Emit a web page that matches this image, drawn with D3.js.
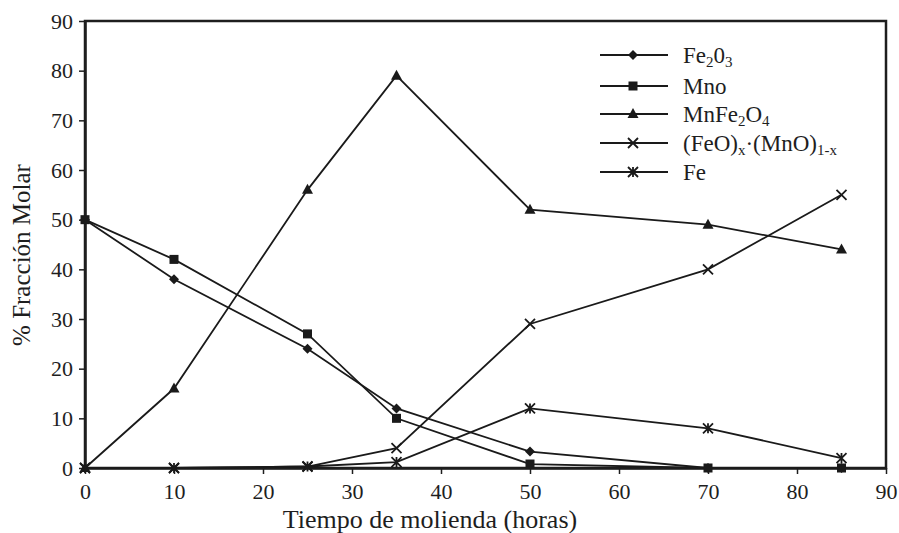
<!DOCTYPE html>
<html><head><meta charset="utf-8">
<script src="https://cdn.jsdelivr.net/npm/d3@7/dist/d3.min.js"></script>
<style>body{margin:0;background:#fff}svg{display:block}</style>
</head><body>
<svg id="c" width="899" height="533"></svg>
<script>
const hours = [0, 10, 25, 35, 50, 70, 85];
const fe2o3 = [50, 38, 24, 12, 3.3, 0, 0];
const mno = [50, 42, 27, 10, 0.8, 0, 0];
const mnfe2o4 = [0, 16, 56, 79, 52, 49, 44];
const feomno = [0, 0, 0.3, 4, 29, 40, 55];
const fe = [0, 0, 0.3, 1.2, 12, 8, 2];
const xTicks = [0,10,20,30,40,50,60,70,80,90];
const yTicks = [0,10,20,30,40,50,60,70,80,90];

const series = [
  {name:"Fe2O3", vals: fe2o3, m:"diamond"},
  {name:"Mno", vals: mno, m:"square"},
  {name:"MnFe2O4", vals: mnfe2o4, m:"triangle"},
  {name:"FeOMnO", vals: feomno, m:"x"},
  {name:"Fe", vals: fe, m:"star"}
];

const svg = d3.select("#c");
const L=85, R=886, T=21, B=468;
const x = d3.scaleLinear().domain([0,90]).range([L,R]);
const y = d3.scaleLinear().domain([0,90]).range([B,T]);
const font = "'Liberation Serif','Times New Roman',serif";
const ink = "#1e1e1e";

svg.append("rect").attr("x",L).attr("y",T).attr("width",R-L).attr("height",B-T)
  .attr("fill","none").attr("stroke",ink).attr("stroke-width",2.5);

const gx = svg.append("g").attr("transform",`translate(0,${B})`)
  .call(d3.axisBottom(x).tickValues(xTicks).tickSize(6).tickPadding(9).tickSizeOuter(0));
const gy = svg.append("g").attr("transform",`translate(${L},0)`)
  .call(d3.axisLeft(y).tickValues(yTicks).tickSize(6).tickPadding(6).tickSizeOuter(0));
[gx,gy].forEach(g=>{
  g.select(".domain").attr("stroke",ink).attr("stroke-width",2.5);
  g.selectAll(".tick line").attr("stroke",ink).attr("stroke-width",1.5);
  g.selectAll(".tick text").attr("font-family",font).attr("font-size",22).attr("fill",ink);
});

svg.append("text").attr("x",430).attr("y",528).attr("text-anchor","middle")
  .attr("font-family",font).attr("font-size",26).attr("fill",ink).text("Tiempo de molienda (horas)");
svg.append("text").attr("transform",`translate(30,${255}) rotate(-90)`).attr("text-anchor","middle")
  .attr("font-family",font).attr("font-size",25).attr("fill",ink).text("% Fracción Molar");

function marker(g, type, cx, cy){
  const c="#1a1a1a";
  if(type==="diamond"){
    g.append("path").attr("d",`M${cx},${cy-5}L${cx+5},${cy}L${cx},${cy+5}L${cx-5},${cy}Z`).attr("fill",c);
  } else if(type==="square"){
    g.append("rect").attr("x",cx-4.5).attr("y",cy-4.5).attr("width",9).attr("height",9).attr("fill",c);
  } else if(type==="triangle"){
    g.append("path").attr("d",`M${cx},${cy-6}L${cx+5.5},${cy+4}L${cx-5.5},${cy+4}Z`).attr("fill",c);
  } else if(type==="x"){
    g.append("path").attr("d",`M${cx-5},${cy-5}L${cx+5},${cy+5}M${cx+5},${cy-5}L${cx-5},${cy+5}`)
      .attr("stroke",c).attr("stroke-width",1.8);
  } else {
    g.append("path").attr("d",`M${cx-5},${cy-5}L${cx+5},${cy+5}M${cx+5},${cy-5}L${cx-5},${cy+5}M${cx},${cy-5}L${cx},${cy+5}`)
      .attr("stroke",c).attr("stroke-width",1.8);
  }
}

const line = d3.line().x((d,i)=>x(hours[i])).y(d=>y(d));
series.forEach(s=>{
  const g = svg.append("g");
  g.append("path").attr("d",line(s.vals)).attr("fill","none").attr("stroke","#1a1a1a").attr("stroke-width",1.8);
  s.vals.forEach((v,i)=>marker(g,s.m,x(hours[i]),y(v)));
});

const legY = [55, 86, 114, 143, 172];
const lg = svg.append("g");
series.forEach((s,i)=>{
  lg.append("line").attr("x1",600).attr("x2",668).attr("y1",legY[i]).attr("y2",legY[i])
    .attr("stroke","#1a1a1a").attr("stroke-width",1.8);
  marker(lg,s.m,633,legY[i]);
});
const lt = (i)=>lg.append("text").attr("x",683).attr("y",legY[i]+8).attr("font-family",font)
  .attr("font-size",23).attr("fill",ink);
const sub = 15;
let t;
t=lt(0); t.append("tspan").text("Fe"); t.append("tspan").attr("font-size",sub).attr("dy",4).text("2");
t.append("tspan").attr("dy",-4).text("0"); t.append("tspan").attr("font-size",sub).attr("dy",4).text("3");
t=lt(1); t.text("Mno");
t=lt(2); t.append("tspan").text("MnFe"); t.append("tspan").attr("font-size",sub).attr("dy",4).text("2");
t.append("tspan").attr("dy",-4).text("O"); t.append("tspan").attr("font-size",sub).attr("dy",4).text("4");
t=lt(3); t.append("tspan").text("(FeO)"); t.append("tspan").attr("font-size",sub).attr("dy",4).text("x");
t.append("tspan").attr("dy",-4).text("·(MnO)"); t.append("tspan").attr("font-size",sub).attr("dy",4).text("1-x");
t=lt(4); t.text("Fe");
</script>
</body></html>
